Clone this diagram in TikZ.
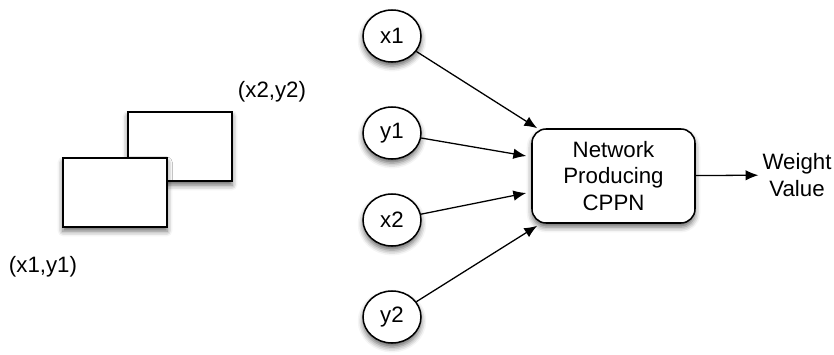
\documentclass[tikz,border=0pt]{standalone}
\usepackage{fontspec}
\setmainfont{Liberation Sans}
\usetikzlibrary{arrows.meta,positioning,shapes.geometric,shadows.blur}

\begin{document}
\begin{tikzpicture}[x=0.03cm,y=-0.03cm,
  font=\fontsize{19}{23}\selectfont,
  shade/.style={blur shadow={shadow xshift=0pt,shadow yshift=-3.5pt,
                shadow blur radius=4.5pt,shadow opacity=60}},
  inp/.style={draw,ellipse,line width=1.3pt,fill=white,shade,
              minimum width=1.74cm,minimum height=1.56cm,inner sep=0pt},
  panel/.style={draw,rectangle,line width=1.3pt,fill=white,shade,
                minimum width=3.12cm,minimum height=2.07cm},
  cppn/.style={draw,rectangle,rounded corners=12pt,line width=1.3pt,fill=white,shade,
               minimum width=4.89cm,minimum height=2.82cm,align=center},
  feed/.style={-{Latex[length=11pt,width=9pt]},line width=1.1pt}]
  \useasboundingbox (0,0) rectangle (834,354);
  % two overlapping windows
  \node[panel] (back) at (180,146.5) {};
  \node[panel] (front) at (115,192.5) {};
  \node (tr) at (272,92) {(x2,y2)};
  \node (bl) at (43,267) {(x1,y1)};
  % inputs
  \node[inp] (x1) at (392,36) {x1};
  \node[inp] (y1) at (392,133) {y1};
  \node[inp] (x2) at (392,220) {x2};
  \node[inp] (y2) at (392,317) {y2};
  \node[cppn] (box) at (613.5,176) {Network\\Producing\\CPPN};
  \node[align=center] (out) at (797,175) {Weight\\Value};
  \coordinate (t1) at ([xshift=0.18cm]box.north west);
  \coordinate (t2) at ([xshift=-0.15cm,yshift=0.6cm]box.west);
  \coordinate (t3) at ([xshift=-0.15cm,yshift=-0.51cm]box.west);
  \coordinate (t4) at ([xshift=0.18cm,yshift=-0.06cm]box.south west);
  \draw[feed] (x1) -- (t1);
  \draw[feed] (y1) -- (t2);
  \draw[feed] (x2) -- (t3);
  \draw[feed] (y2) -- (t4);
  \draw[feed] (box) -- (out);
\end{tikzpicture}
\end{document}
